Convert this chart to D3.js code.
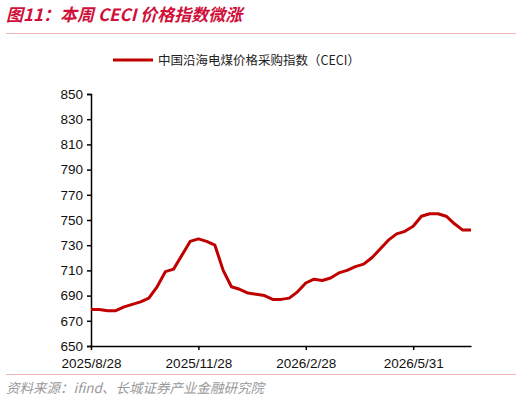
<!DOCTYPE html>
<html><head><meta charset="utf-8">
<script src="https://cdn.jsdelivr.net/npm/d3@7"></script>
<style>body{margin:0;background:#fff}</style>
</head><body>
<svg id="c" width="522" height="403"></svg>
<script>
// CECI weekly values
const values = [679, 679, 678, 678, 681, 683, 685, 688, 697, 709, 711, 722, 733, 735, 733, 730,
  710, 697, 695, 692, 691, 690, 687, 687, 688, 693, 700, 703, 702, 704, 708, 710, 713, 715,
  720, 727, 734, 739, 741, 745, 753, 755, 755, 753, 747, 742, 742];
const tickIdx = [0, 13, 26, 39];
const tickLabels = ['2025/8/28', '2025/11/28', '2026/2/28', '2026/5/31'];
const yTicks = d3.range(650, 851, 20);

const svg = d3.select('#c');
const font = '"Noto Sans CJK SC", sans-serif';
const red = '#c00000';

svg.append('text').attr('x', 6).attr('y', 21).text('图11：本周 CECI 价格指数微涨')
  .style('font-family', font).style('font-size', '17px').style('font-weight', 'bold')
  .style('font-style', 'italic').style('fill', '#d0103a');
svg.append('line').attr('x1', 6).attr('x2', 516).attr('y1', 33.5).attr('y2', 33.5)
  .style('stroke', '#f0b8b8').style('stroke-width', 1);
svg.append('line').attr('x1', 6).attr('x2', 516).attr('y1', 374.5).attr('y2', 374.5)
  .style('stroke', '#f0b8b8').style('stroke-width', 1);

const x = d3.scaleLinear().domain([0, values.length - 1]).range([91, 471]);
const y = d3.scaleLinear().domain([650, 850]).range([346, 94]);

// legend
svg.append('line').attr('x1', 113).attr('x2', 153).attr('y1', 60).attr('y2', 60)
  .style('stroke', red).style('stroke-width', 3);
svg.append('text').attr('x', 158).attr('y', 65).text('中国沿海电煤价格采购指数（CECI）')
  .style('font-family', font).style('font-size', '12.5px').style('fill', '#222');

const ya = svg.append('g').attr('transform', 'translate(91,0)')
  .call(d3.axisLeft(y).tickValues(yTicks).tickSize(4).tickPadding(4));
const xa = svg.append('g').attr('transform', 'translate(0,346)')
  .call(d3.axisBottom(x).tickValues(tickIdx).tickFormat((d, i) => tickLabels[i]).tickSize(4).tickSizeOuter(0).tickPadding(8));
[ya, xa].forEach(a => {
  a.selectAll('path,line').style('stroke', '#000').style('stroke-width', 1.5);
  a.selectAll('text').style('font-family', 'Arial, sans-serif').style('font-size', '13.5px').style('fill', '#111');
});

svg.append('path').datum(values)
  .attr('d', d3.line().x((d, i) => x(i)).y(d => y(d)))
  .style('fill', 'none').style('stroke', red).style('stroke-width', 3).style('stroke-linejoin', 'round');

svg.append('text').attr('x', 6).attr('y', 393).text('资料来源：ifind、长城证券产业金融研究院')
  .style('font-family', font).style('font-size', '13.5px').style('font-style', 'italic').style('fill', '#999');
</script>
</body></html>
